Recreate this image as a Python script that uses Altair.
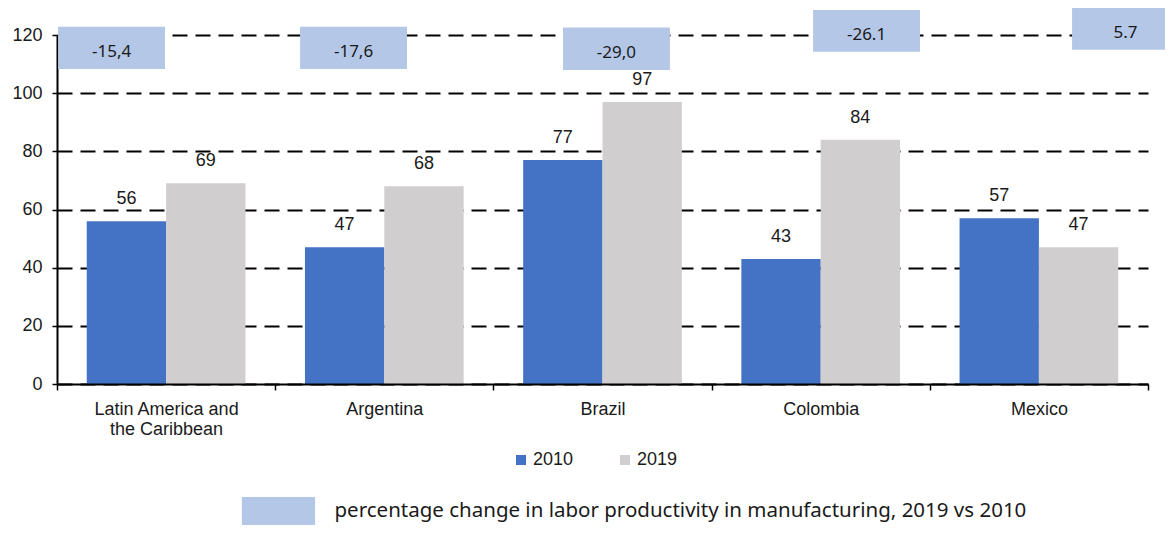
import altair as alt
import pandas as pd

# ---- data ----
categories = ["Latin America and the Caribbean", "Argentina", "Brazil", "Colombia", "Mexico"]
years = ["2010", "2019"]
v2010 = [56, 47, 77, 43, 57]
v2019 = [69, 68, 97, 84, 47]
pct_labels = ["-15,4", "-17,6", "-29,0", "-26.1", "5.7"]
# annotation boxes: centre in category units (0..5), top/bottom in y data units
box_center = [0.250, 1.359, 2.564, 3.710, 4.897]
box_top = [122.8, 122.8, 122.6, 128.6, 129.3]
box_bottom = [108.3, 108.3, 108.0, 114.2, 114.9]
box_legend = "percentage change in labor productivity in manufacturing, 2019 vs 2010"

BOX_HALF = 0.245
FONT = "Liberation Sans"
FONT2 = "Noto Sans"

rows = []
for c, a, b in zip(categories, v2010, v2019):
    rows.append({"category": c, "year": "2010", "value": a})
    rows.append({"category": c, "year": "2019", "value": b})
df = pd.DataFrame(rows)

boxes = pd.DataFrame({
    "category": categories,
    "label": pct_labels,
    "x0": [c - BOX_HALF for c in box_center],
    "x1": [c + BOX_HALF for c in box_center],
    "xc": box_center,
    "top": box_top,
    "bottom": box_bottom,
    "ymid": [(t + b) / 2 for t, b in zip(box_top, box_bottom)],
    "legend": [box_legend] * len(categories),
})

x_enc = alt.X(
    "category:N",
    sort=categories,
    scale=alt.Scale(paddingInner=0, paddingOuter=0),
    axis=alt.Axis(
        title=None, labelAngle=0, tickBand="extent", domainColor="black",
        domainWidth=2, tickColor="black", tickWidth=1.5, tickSize=6,
        labelPadding=10, labelFont=FONT, labelFontSize=18, labelColor="#1a1a1a",
        labelLineHeight=20, labelLimit=400, zindex=1,
        labelExpr="datum.label == 'Latin America and the Caribbean' ? ['Latin America and', 'the Caribbean'] : datum.label",
    ),
)
y_enc = alt.Y(
    "value:Q",
    scale=alt.Scale(domain=[0, 120], nice=False),
    axis=alt.Axis(
        title=None, values=[0, 20, 40, 60, 80, 100, 120], grid=True,
        gridDash=[15, 8], gridColor="black", gridWidth=2, gridOpacity=1,
        domainColor="black", domainWidth=2, tickColor="black", tickWidth=1.5,
        tickSize=5, labelPadding=10, labelFont=FONT, labelFontSize=18,
        labelColor="#1a1a1a",
    ),
)
xoff = alt.XOffset("year:N", sort=years, scale=alt.Scale(paddingInner=0, paddingOuter=0.375))

bars = alt.Chart(df).mark_bar().encode(
    x=x_enc,
    xOffset=xoff,
    y=y_enc,
    color=alt.Color(
        "year:N",
        sort=years,
        scale=alt.Scale(domain=years, range=["#4472C4", "#D0CECE"]),
        legend=alt.Legend(
            title=None, orient="none", direction="horizontal", legendX=455, legendY=416,
            symbolType="square", symbolSize=100, symbolStrokeWidth=0, labelOffset=3,
            columnPadding=42, labelFont=FONT, labelFontSize=18, labelColor="#1a1a1a",
            padding=0,
        ),
    ),
)

bar_text = alt.Chart(df).mark_text(
    baseline="bottom", dy=-13, font=FONT, fontSize=18, color="#1a1a1a"
).encode(
    x=alt.X("category:N", sort=categories),
    xOffset=alt.XOffset("year:N", sort=years),
    y="value:Q",
    text="value:Q",
)

qx = alt.Scale(domain=[0, 5], nice=False, zero=False)
box_rect = alt.Chart(boxes).mark_rect().encode(
    x=alt.X("x0:Q", scale=qx, axis=None),
    x2="x1:Q",
    y=alt.Y("top:Q"),
    y2="bottom:Q",
    fill=alt.Fill(
        "legend:N",
        scale=alt.Scale(range=["#B4C7E7"]),
        legend=alt.Legend(
            title=None, orient="none", legendX=191.5, legendY=446,
            symbolType="M-1.22,-0.47H1.22V0.47H-1.22Z", symbolSize=3600,
            symbolStrokeWidth=0, labelOffset=26, labelFont=FONT2, labelFontSize=20.5,
            labelColor="#1a1a1a", labelLimit=0, padding=0,
        ),
    ),
)
box_text = alt.Chart(boxes).mark_text(
    baseline="middle", align="center", dy=4, font=FONT2, fontSize=17, color="#1a1a1a"
).encode(
    x=alt.X("xc:Q", scale=qx, axis=None),
    y="ymid:Q",
    text="label:N",
)

main = alt.layer(bars, bar_text)
annot = alt.layer(box_rect, box_text)

chart = alt.layer(main, annot).resolve_scale(
    x="independent", color="independent", fill="independent"
).properties(
    width=1091,
    height=349,
    padding={"left": 49, "top": 27, "right": 17, "bottom": 141},
    autosize=alt.AutoSizeParams(type="none"),
).configure_view(stroke=None)

chart.save("out.html", embed_options={"renderer": "svg", "actions": False})
